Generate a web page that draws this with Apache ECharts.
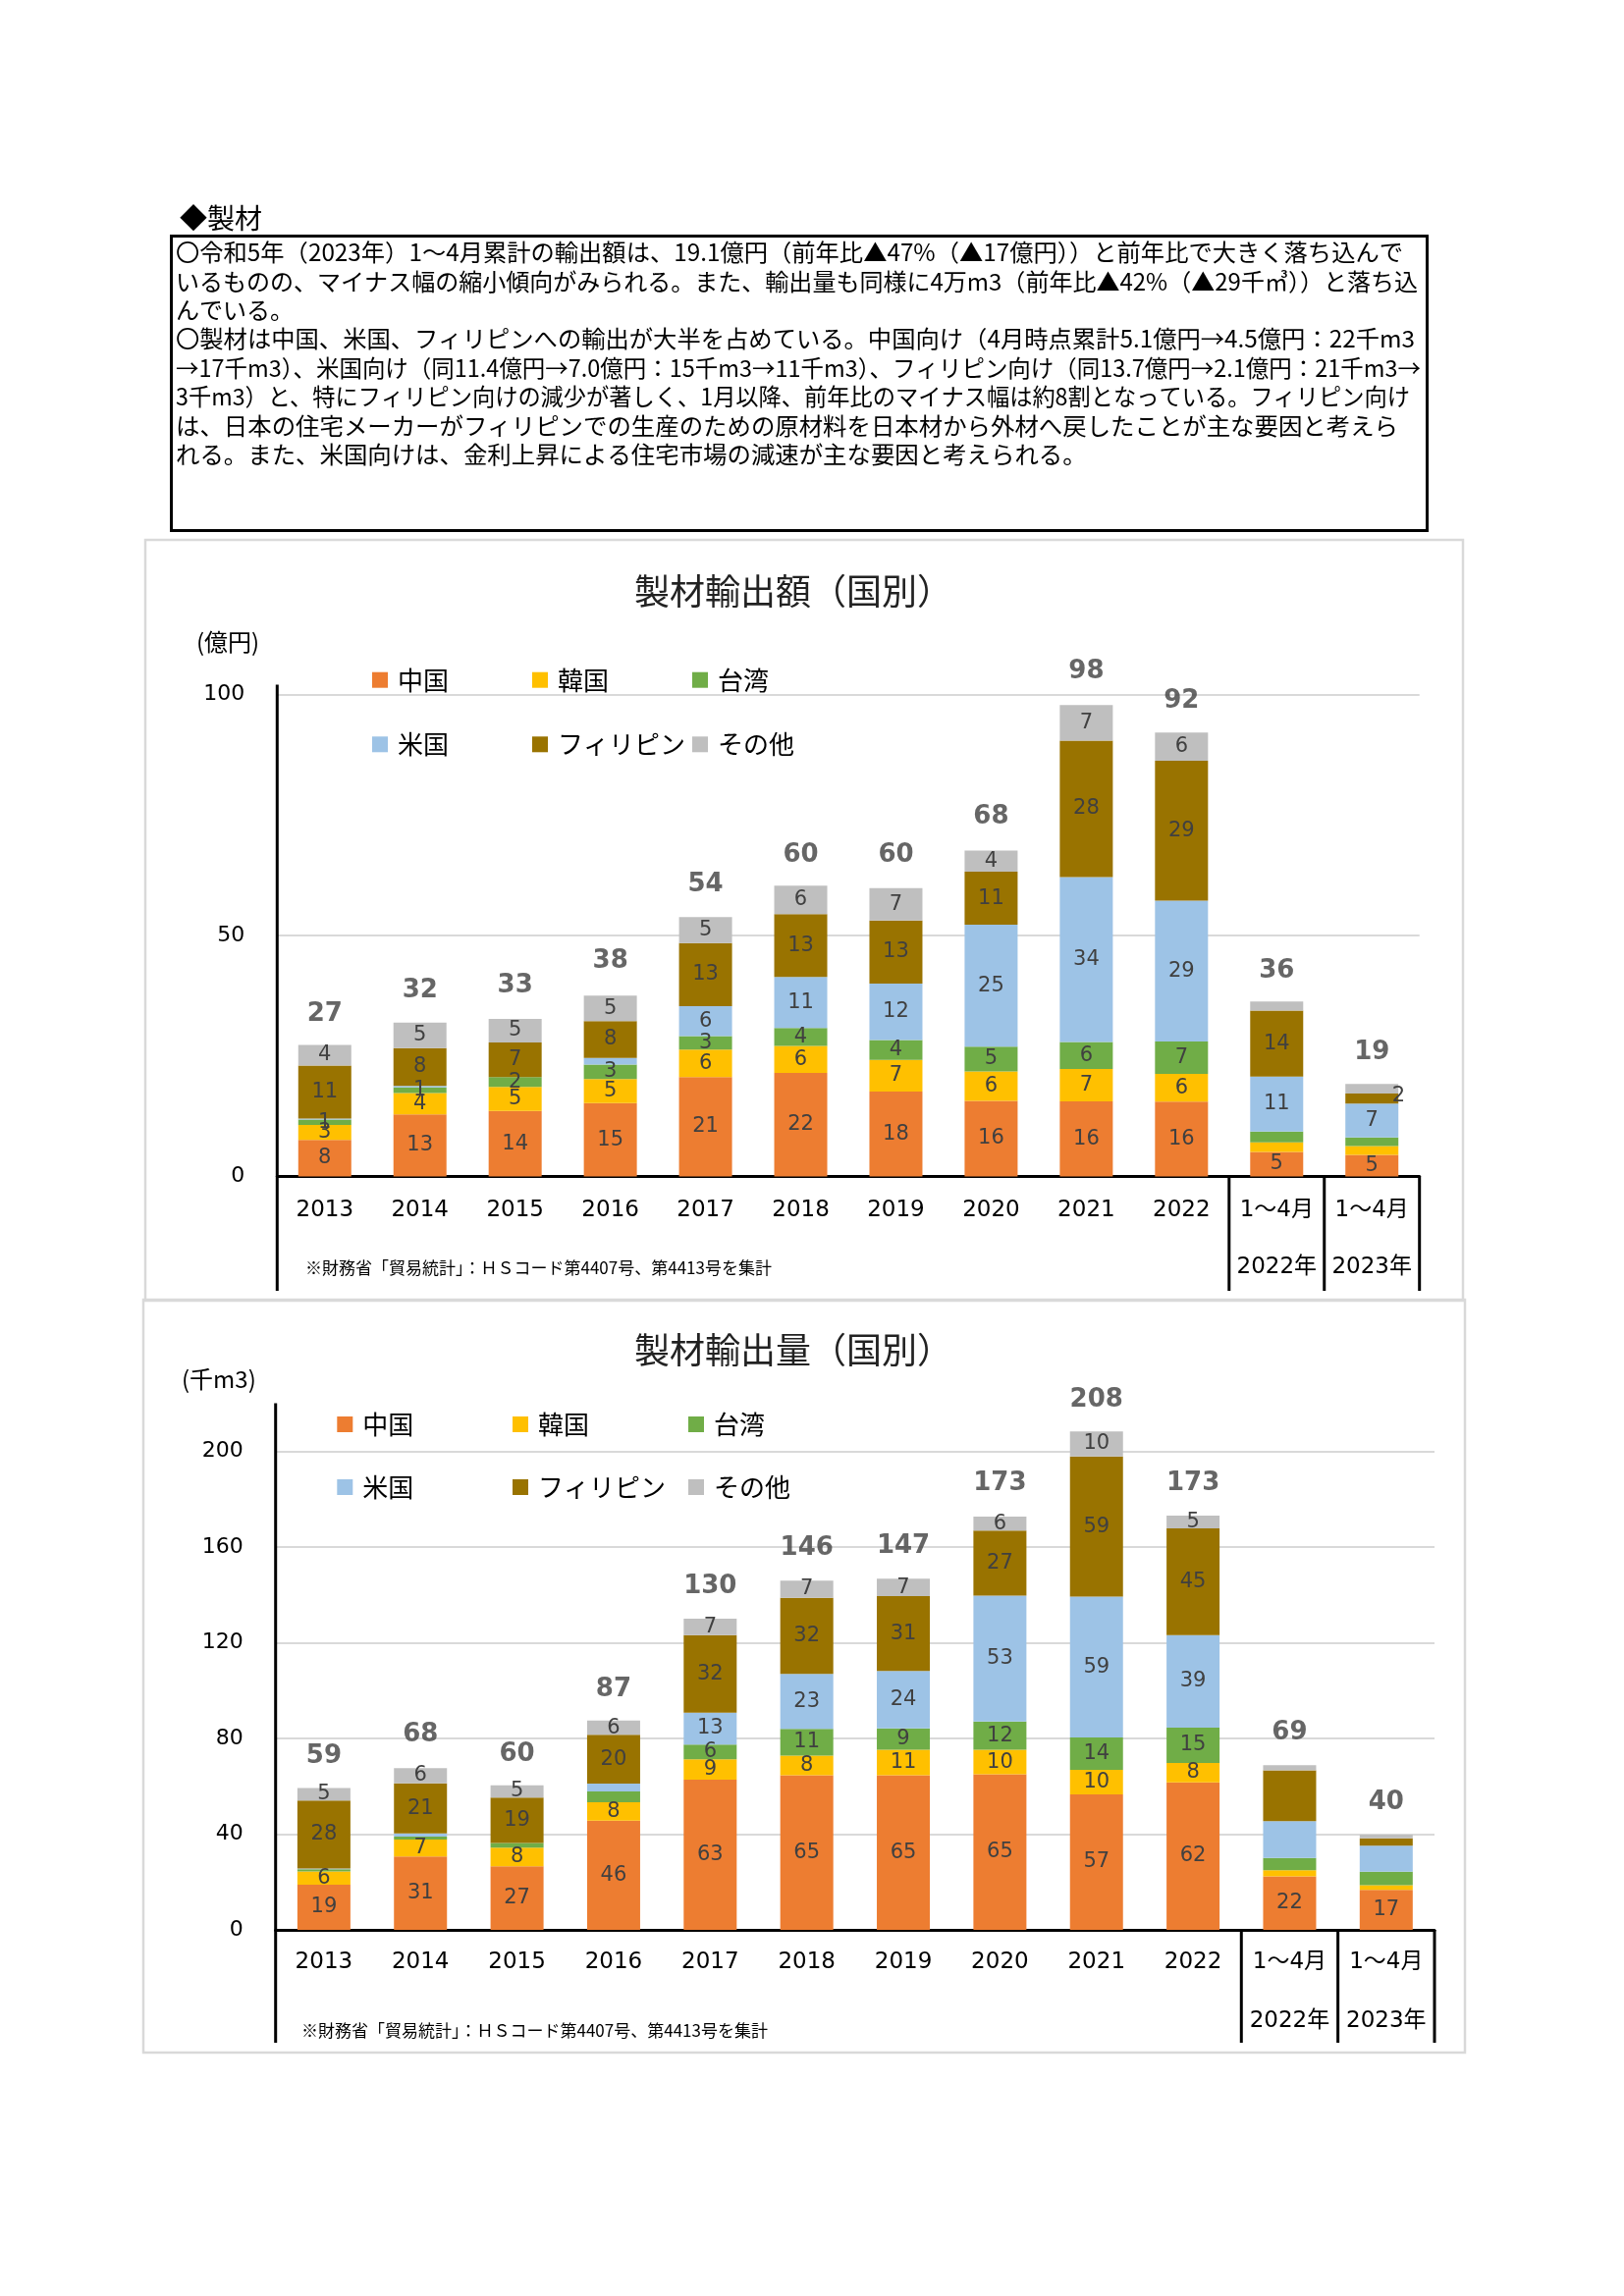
<!DOCTYPE html>
<html>
<head>
<meta charset="utf-8">
<script src="https://cdn.jsdelivr.net/npm/echarts@6/dist/echarts.min.js"></script>
<style>
html,body{margin:0;padding:0;background:#fff;}
#c{width:1654px;height:2339px;}
</style>
</head>
<body>
<div id="c"></div>
<script>
// ---------- data ----------
const categories = ['2013','2014','2015','2016','2017','2018','2019','2020','2021','2022','1～4月|2022年','1～4月|2023年'];
const countries = ['中国','韓国','台湾','米国','フィリピン','その他'];

// 製材輸出額（億円）
const amountChina       = [7.6, 12.9, 13.6, 15.2, 20.6, 21.5, 17.6, 15.7, 15.6, 15.5, 5.1, 4.5];
const amountKorea       = [3.1, 4.4, 5.0, 5.0, 5.7, 5.6, 6.6, 6.1, 6.7, 5.8, 2.0, 1.8];
const amountTaiwan      = [1.1, 1.2, 2.0, 3.0, 2.8, 3.7, 4.1, 5.1, 5.6, 6.7, 2.2, 1.8];
const amountUSA         = [0.2, 0.3, 0.0, 1.4, 6.2, 10.6, 11.7, 25.3, 34.2, 29.2, 11.4, 7.0];
const amountPhilippines = [11.0, 7.8, 7.2, 7.6, 13.1, 13.0, 13.1, 11.0, 28.3, 29.0, 13.7, 2.1];
const amountOther       = [4.3, 5.3, 4.9, 5.3, 5.4, 5.9, 6.7, 4.4, 7.4, 5.9, 1.9, 2.0];
const amountTotal       = [27, 32, 33, 38, 54, 60, 60, 68, 98, 92, 36, 19];

// 製材輸出量（千m3）
const volumeChina       = [18.9, 30.7, 26.6, 45.6, 62.7, 64.6, 64.6, 65.0, 56.6, 61.6, 22.3, 16.7];
const volumeKorea       = [5.5, 7.0, 7.7, 7.7, 8.6, 8.2, 10.6, 10.2, 10.2, 8.1, 2.6, 2.0];
const volumeTaiwan      = [0.9, 1.3, 2.0, 4.5, 6.1, 11.2, 9.0, 11.8, 13.6, 14.8, 5.1, 5.6];
const volumeUSA         = [0.3, 1.3, 0.0, 3.3, 13.3, 22.9, 24.0, 52.6, 58.8, 38.6, 15.4, 10.9];
const volumePhilippines = [28.4, 20.9, 19.0, 20.4, 32.4, 31.8, 31.2, 27.2, 58.6, 44.6, 21.2, 3.0];
const volumeOther       = [5.3, 6.4, 5.1, 5.9, 6.9, 7.2, 7.3, 5.8, 10.4, 5.3, 2.2, 1.6];
const volumeTotal       = [59, 68, 60, 87, 130, 146, 147, 173, 208, 173, 69, 40];

const amountTicks = [0, 50, 100];
const volumeTicks = [0, 40, 80, 120, 160, 200];

// ---------- texts ----------
const headingText = '◆製材';
const bodyLines = [
  '〇令和5年（2023年）1～4月累計の輸出額は、19.1億円（前年比▲47%（▲17億円））と前年比で大きく落ち込んで',
  'いるものの、マイナス幅の縮小傾向がみられる。また、輸出量も同様に4万m3（前年比▲42%（▲29千㎥））と落ち込',
  'んでいる。',
  '〇製材は中国、米国、フィリピンへの輸出が大半を占めている。中国向け（4月時点累計5.1億円→4.5億円：22千m3',
  '→17千m3）、米国向け（同11.4億円→7.0億円：15千m3→11千m3）、フィリピン向け（同13.7億円→2.1億円：21千m3→',
  '3千m3）と、特にフィリピン向けの減少が著しく、1月以降、前年比のマイナス幅は約8割となっている。フィリピン向け',
  'は、日本の住宅メーカーがフィリピンでの生産のための原材料を日本材から外材へ戻したことが主な要因と考えら',
  'れる。また、米国向けは、金利上昇による住宅市場の減速が主な要因と考えられる。'
];
const titles = ['製材輸出額（国別）', '製材輸出量（国別）'];
const units = ['(億円)', '(千m3)'];
const noteText = '※財務省「貿易統計」：ＨＳコード第4407号、第4413号を集計';

// ---------- style / layout ----------
const colors = ['#ED7D31','#FFC000','#70AD47','#9DC3E6','#997300','#BFBFBF'];
const F_CJK = '"Noto Sans CJK JP", sans-serif';
const F_NUM = '"DejaVu Sans", "Noto Sans CJK JP", sans-serif';

const charts = [
  { values:[amountChina,amountKorea,amountTaiwan,amountUSA,amountPhilippines,amountOther], total:amountTotal,
    ticks:amountTicks, max:102, interval:50,
    grid:{left:282.3, top:697.5, width:1163.4, height:501}, tableBottom:1315,
    frame:{x:148, y:550, w:1342, h:775}, titleY:602, unitX:200, unitY:654, noteX:311, noteY:1292,
    legendX:[379,542,705], legendY:[692.7,758.3], labelMargin:20, labelLH:29 },
  { values:[volumeChina,volumeKorea,volumeTaiwan,volumeUSA,volumePhilippines,volumeOther], total:volumeTotal,
    ticks:volumeTicks, max:220, interval:40,
    grid:{left:280.7, top:1429.5, width:1180.3, height:536.5}, tableBottom:2081,
    frame:{x:146, y:1324, w:1346, h:767}, titleY:1375, unitX:185, unitY:1405, noteX:307, noteY:2069,
    legendX:[343.3,522,701], legendY:[1451,1515], labelMargin:18, labelLH:30 }
];

function showSegLabel(k, c, i, v) {
  const period = i >= 10;
  if (k === 0) {
    if (period) return c === 0 || c === 3 || c === 4;
    if (c === 3) return v >= 2;
    return v >= 0.95;
  } else {
    if (period) return c === 0;
    return v >= 5;
  }
}

const grids = [], xAxes = [], yAxes = [], series = [], legends = [], graphics = [];

charts.forEach((ch, k) => {
  grids.push(Object.assign({containLabel:false}, ch.grid));
  xAxes.push({
    type:'category', gridIndex:k, data:categories,
    axisLine:{show:true, lineStyle:{color:'#000', width:3}},
    axisTick:{show:false},
    axisLabel:{interval:0, fontSize:23, color:'#000', fontFamily:F_NUM, margin:ch.labelMargin, lineHeight:ch.labelLH,
      formatter: v => v.replace('|', '\n\n')}
  });
  const nLines = Math.floor(ch.max / ch.interval) + 2;
  const splitColors = [];
  for (let j = 0; j < nLines; j++) splitColors.push(j * ch.interval <= ch.ticks[ch.ticks.length-1] ? '#D9D9D9' : 'rgba(0,0,0,0)');
  yAxes.push({
    type:'value', gridIndex:k, min:0, max:ch.max, interval:ch.interval,
    axisLine:{show:false}, axisTick:{show:false},
    splitLine:{show:true, lineStyle:{color:splitColors, width:2}},
    axisLabel:{fontSize:22, color:'#000', fontFamily:F_NUM, margin:33,
      formatter: v => (ch.ticks.indexOf(v) >= 0 ? String(v) : '')}
  });
  countries.forEach((name, c) => {
    series.push({
      type:'bar', name, stack:'s'+k, xAxisIndex:k, yAxisIndex:k, barWidth:54,
      itemStyle:{color:colors[c]},
      label:{show:true, position:'inside', fontSize:21, color:'#404040', fontFamily:F_NUM,
        formatter: p => String(Math.round(p.value))},
      emphasis:{disabled:true},
      data: ch.values[c].map((v, i) => {
        const item = {value:v, label:{show:showSegLabel(k, c, i, v)}};
        if (k === 0 && c === 4 && i === 11) { item.label.position = 'insideRight'; item.label.offset = [12, -3]; }
        return item;
      })
    });
    legends.push({
      show:true, data:[name], selectedMode:false, icon:'rect', itemWidth:16, itemHeight:16, padding:0,
      left: ch.legendX[c % 3], top: ch.legendY[Math.floor(c/3)] - 13,
      textStyle:{fontSize:26, fontFamily:F_CJK, color:'#000', padding:[0,0,0,5]}
    });
  });
  series.push({
    type:'scatter', name:'合計'+k, xAxisIndex:k, yAxisIndex:k, symbolSize:1,
    itemStyle:{color:'rgba(0,0,0,0)'}, silent:true, z:10,
    label:{show:true, position:'top', distance:19, fontSize:26, fontWeight:'bold', color:'#404040', fontFamily:F_NUM,
      formatter: p => String(p.value)},
    data: ch.total
  });

  // frame, title, unit, note
  graphics.push({type:'rect', z:1, shape:{x:ch.frame.x, y:ch.frame.y, width:ch.frame.w, height:ch.frame.h},
    style:{fill:'none', stroke:'#D9D9D9', lineWidth:2.5}});
  graphics.push({type:'text', z:100, x:808, y:ch.titleY,
    style:{text:titles[k], fontSize:36, fontFamily:F_CJK, fill:'#222', align:'center', verticalAlign:'middle'}});
  graphics.push({type:'text', z:100, x:ch.unitX, y:ch.unitY,
    style:{text:units[k], fontSize:24, fontFamily:F_CJK, fill:'#000', align:'left', verticalAlign:'middle'}});
  graphics.push({type:'text', z:100, x:ch.noteX, y:ch.noteY,
    style:{text:noteText, fontSize:17, fontFamily:F_CJK, fill:'#000', align:'left', verticalAlign:'middle'}});
  // y-axis line extended down through label table, and separators
  const g = ch.grid, base = g.top + g.height;
  graphics.push({type:'line', z:100, shape:{x1:g.left, y1:g.top, x2:g.left, y2:ch.tableBottom}, style:{stroke:'#000', lineWidth:3}});
  [10, 11, 12].forEach(i => {
    const x = g.left + i * g.width / categories.length;
    graphics.push({type:'line', z:100, shape:{x1:x, y1:base, x2:x, y2:ch.tableBottom}, style:{stroke:'#000', lineWidth:3}});
  });
});

// heading and body text box
graphics.push({type:'text', z:100, x:183, y:222.5,
  style:{text:headingText, fontSize:28, fontFamily:F_CJK, fill:'#000', align:'left', verticalAlign:'middle'}});
graphics.push({type:'rect', z:100, shape:{x:174.5, y:240.5, width:1279, height:300},
  style:{fill:'none', stroke:'#000', lineWidth:3}});
const lineRight = [1429, 1444, null, 1441, 1447, 1436, 1424, null];
const ctx = document.createElement('canvas').getContext('2d');
ctx.font = '24px "Noto Sans CJK JP"';
let lastScale = 1;
bodyLines.forEach((t, j) => {
  const w = ctx.measureText(t).width;
  let s = lastScale;
  if (lineRight[j] !== null) { s = (lineRight[j] - 179) / w; lastScale = s; }
  graphics.push({type:'text', z:100, x:179, y:257 + j * 29.4, scaleX:s,
    style:{text:t, fontSize:24, fontFamily:F_CJK, fill:'#000', align:'left', verticalAlign:'middle'}});
});

const chart = echarts.init(document.getElementById('c'), null, {renderer:'canvas'});
chart.setOption({
  backgroundColor:'#fff',
  animation:false,
  grid:grids, xAxis:xAxes, yAxis:yAxes, legend:legends, series:series,
  graphic:{elements:graphics}
});
</script>
</body>
</html>
